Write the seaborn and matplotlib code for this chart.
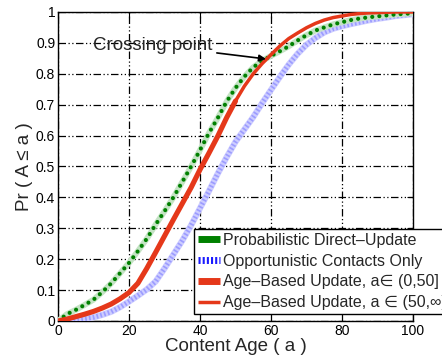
import matplotlib
matplotlib.use("Agg")
import matplotlib.pyplot as plt
from matplotlib.lines import Line2D
import pandas as pd
import seaborn as sns

# Content age grid and CDF values Pr(A <= a) for each update scheme
age = [0, 2.5, 5, 7.5, 10, 12.5, 15, 17.5, 20, 22.5, 25, 27.5, 30, 32.5, 35, 37.5,
       40, 42.5, 45, 47.5, 50, 52.5, 55, 57.5, 60, 62.5, 65, 67.5, 70, 72.5, 75,
       77.5, 80, 82.5, 85, 87.5, 90, 92.5, 95, 97.5, 100]
direct_update = [0.0, 0.022, 0.036, 0.052, 0.069, 0.094, 0.122, 0.155, 0.188, 0.226,
                 0.266, 0.312, 0.355, 0.400, 0.450, 0.500, 0.553, 0.608, 0.657, 0.710,
                 0.754, 0.791, 0.821, 0.842, 0.858, 0.873, 0.889, 0.908, 0.925, 0.940,
                 0.950, 0.960, 0.967, 0.974, 0.979, 0.983, 0.986, 0.989, 0.992, 0.994,
                 0.996]
opportunistic = [0.0, 0.001, 0.003, 0.007, 0.012, 0.020, 0.030, 0.045, 0.063, 0.082,
                 0.102, 0.128, 0.170, 0.215, 0.260, 0.310, 0.365, 0.420, 0.477, 0.530,
                 0.580, 0.620, 0.660, 0.705, 0.748, 0.790, 0.830, 0.865, 0.894, 0.916,
                 0.934, 0.946, 0.954, 0.961, 0.967, 0.973, 0.978, 0.982, 0.987, 0.990,
                 0.993]
age_based = [0.0, 0.006, 0.014, 0.022, 0.031, 0.042, 0.055, 0.072, 0.092, 0.122,
             0.170, 0.222, 0.275, 0.328, 0.380, 0.432, 0.490, 0.543, 0.598, 0.658,
             0.712, 0.760, 0.800, 0.833, 0.862, 0.890, 0.914, 0.932, 0.949, 0.963,
             0.974, 0.982, 0.987, 0.992, 0.995, 0.997, 0.998, 0.999, 1.0, 1.0, 1.0]
split_age = 50

legend_labels = ["Probabilistic Direct\u2013Update",
                 "Opportunistic Contacts Only",
                 "Age\u2013Based Update, a\u2208 (0,50]",
                 "Age\u2013Based Update, a \u2208 (50,\u221e)"]
x_ticks = [0, 20, 40, 60, 80, 100]
y_ticks = [0, 0.1, 0.2, 0.3, 0.4, 0.5, 0.6, 0.7, 0.8, 0.9, 1]
y_tick_labels = ["0", "0.1", "0.2", "0.3", "0.4", "0.5", "0.6", "0.7", "0.8", "0.9", "1"]

sns.set_style("white")
plt.rcParams["font.family"] = ["Liberation Sans", "DejaVu Sans"]

df_direct = pd.DataFrame({"age": age, "pr": direct_update})
df_opp = pd.DataFrame({"age": age, "pr": opportunistic})
df_age = pd.DataFrame({"age": age, "pr": age_based})
df_age_lo = df_age[df_age["age"] <= split_age]
df_age_hi = df_age[df_age["age"] >= split_age]

fig = plt.figure(figsize=(4.42, 3.61), dpi=100)
ax = fig.add_axes([58 / 442, 1 - 321 / 361, (413 - 58) / 442, (321 - 12) / 361])

RED = "#e5381a"
GREEN = "#008000"

# Opportunistic contacts: pale wide band with dense blue dots
sns.lineplot(data=df_opp, x="age", y="pr", ax=ax, color="#cdcdff", lw=4.5,
             errorbar=None, zorder=3)
sns.lineplot(data=df_opp, x="age", y="pr", ax=ax, color="#7474ff", lw=3.5,
             linestyle=(0, (0.35, 0.45)), errorbar=None, zorder=3, alpha=0.55)

# Probabilistic direct update: light green band with dark green dots
sns.lineplot(data=df_direct, x="age", y="pr", ax=ax, color="#c4e3c4", lw=4.2,
             errorbar=None, zorder=4)
sns.lineplot(data=df_direct, x="age", y="pr", ax=ax, color=GREEN, lw=3.0,
             linestyle=(0, (0.01, 1.7)), errorbar=None, zorder=5)
ax.lines[-1].set_dash_capstyle("round")

# Age-based update: thick below the split age, thinner above
sns.lineplot(data=df_age_lo, x="age", y="pr", ax=ax, color=RED, lw=3.7,
             errorbar=None, zorder=6)
sns.lineplot(data=df_age_hi, x="age", y="pr", ax=ax, color=RED, lw=2.5,
             errorbar=None, zorder=6)
for ln in ax.lines:
    ln.set_solid_capstyle("round")
    ln.set_solid_joinstyle("round")

ax.set_xlim(0, 100)
ax.set_ylim(0, 1)
ax.set_xticks(x_ticks)
ax.set_yticks(y_ticks)
ax.set_yticklabels(y_tick_labels)
ax.tick_params(direction="in", length=4, width=0.8, top=True, right=True,
               labelsize=10, colors="black", pad=2)
ax.grid(True, color="black", lw=0.9, linestyle=(0, (6, 2, 1, 2, 1, 2)))
for sp in ax.spines.values():
    sp.set_color("black")
    sp.set_linewidth(1.0)

ax.set_xlabel("Content Age ( a )", fontsize=13.5, labelpad=0)
ax.set_ylabel("Pr ( A \u2264 a )", fontsize=13.5, labelpad=2)

ax.annotate("Crossing point", xy=(58.6, 0.848), xytext=(9.8, 0.893),
            fontsize=13.5, va="center", ha="left", zorder=8,
            arrowprops=dict(arrowstyle="-|>", color="black", lw=1.2,
                            mutation_scale=10, shrinkA=1, shrinkB=0))

handles = [
    Line2D([], [], color=GREEN, lw=5, solid_capstyle="butt"),
    Line2D([], [], color="#1a1aff", lw=5, linestyle=(0, (0.3, 0.3)),
           dash_capstyle="butt"),
    Line2D([], [], color=RED, lw=5, solid_capstyle="butt"),
    Line2D([], [], color=RED, lw=2.5, solid_capstyle="butt"),
]
leg = fig.legend(handles, legend_labels, loc="upper left",
                 bbox_to_anchor=(194 / 442, 1 - 229 / 361),
                 bbox_transform=fig.transFigure, fontsize=11.5,
                 frameon=True, fancybox=False, framealpha=1,
                 edgecolor="black", borderpad=0.25, handlelength=1.4,
                 handletextpad=0.15, labelspacing=0.36, borderaxespad=0)
leg.get_frame().set_linewidth(1.0)
leg.set_zorder(10)

fig.savefig("out.png", dpi=100)
